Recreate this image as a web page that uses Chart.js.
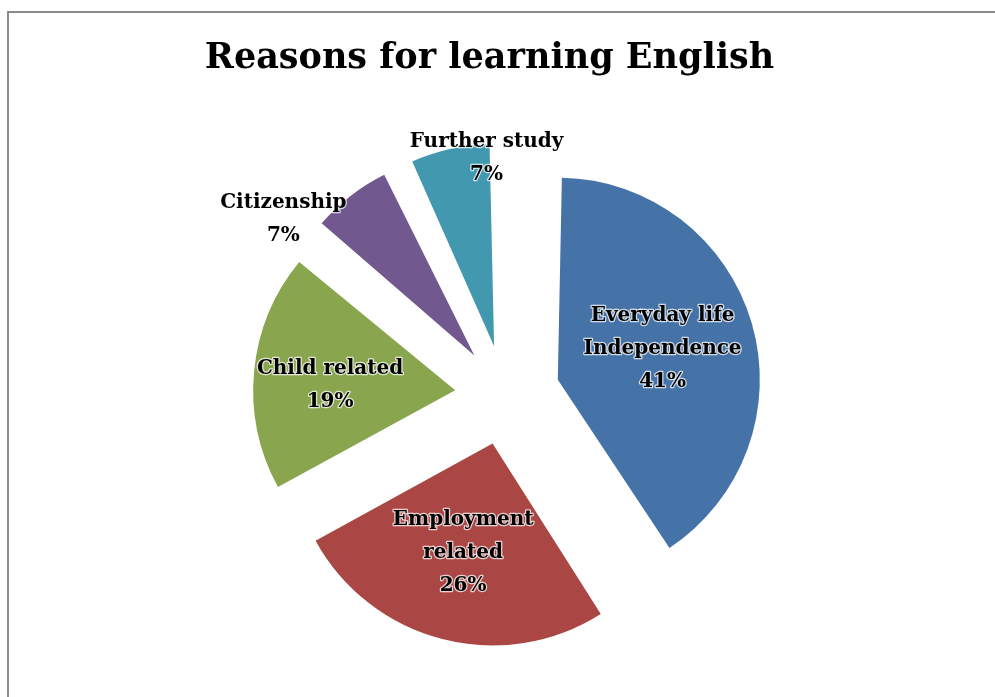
<!DOCTYPE html>
<html>
<head>
<meta charset="utf-8">
<script src="https://cdn.jsdelivr.net/npm/chart.js@4.4.1/dist/chart.umd.min.js"></script>
<style>
    html, body { margin: 0; padding: 0; background: #fff; overflow: hidden; }
    #wrap { position: relative; width: 995px; height: 697px; }
    #frame {
        position: absolute; left: 7px; top: 11px; width: 1100px; height: 800px;
        border-top: 2px solid #8a8a8a; border-left: 2px solid #8a8a8a;
    }
    #title {
        position: absolute; left: 0; top: 38px; width: 979px; text-align: center;
        font: bold 35px/36px "DejaVu Serif", serif; color: #000; margin: 0;
    }
    #chart { position: absolute; left: 0; top: 0; }
</style>
</head>
<body>
<div id="wrap">
    <div id="frame"></div>
    <canvas id="chart" width="995" height="697"></canvas>
    <h1 id="title">Reasons for learning English</h1>
</div>
<script>
// data
const categories = [['Everyday life', 'Independence'], ['Employment', 'related'], 'Child related', 'Citizenship', 'Further study']
const shares = [41, 26, 19, 7, 7]
const sliceColors = ['#4572A7', '#AA4643', '#89A54E', '#71588F', '#4198AF']

// where each label sits: fraction of the radius out from the slice tip, and a small turn (deg)
const labelPlace = [
    { f: 0.54, turn: 0 },
    { f: 0.56, turn: 0.7 },
    { f: 0.62, turn: -3 },
    { f: 1.16, turn: -16.8 },
    { f: 0.93, turn: 10.3 }
]

// Chart.js grows the radius of exploded slices a bit (more for thin ones), undo that
const evenRadius = {
    id: 'evenRadius',
    afterDatasetsUpdate(chart) {
        const meta = chart.getDatasetMeta(0)
        meta.data.forEach(arc => {
            const off = (arc.options.offset || 0) / 4
            const fix = 1 - Math.sin(Math.min(Math.PI, arc.circumference))
            arc.outerRadius = meta.controller.outerRadius - off * fix
        })
    }
}

const sliceLabels = {
    id: 'sliceLabels',
    afterDatasetsDraw(chart) {
        const ctx = chart.ctx
        const meta = chart.getDatasetMeta(0)
        const R = meta.controller.outerRadius
        ctx.save()
        ctx.font = 'bold 20px "DejaVu Serif", serif'
        ctx.textAlign = 'center'
        ctx.textBaseline = 'middle'
        ctx.lineJoin = 'round'
        meta.data.forEach((arc, i) => {
            const mid = (arc.startAngle + arc.endAngle) / 2
            const off = (arc.options.offset || 0) / 4
            const tipX = arc.x + Math.cos(mid) * off
            const tipY = arc.y + Math.sin(mid) * off
            const p = labelPlace[i]
            const a = mid + p.turn * Math.PI / 180
            const cx = tipX + Math.cos(a) * p.f * R
            const cy = tipY + Math.sin(a) * p.f * R
            const lines = [].concat(chart.data.labels[i], shares[i] + '%')
            lines.forEach((line, k) => {
                const ly = cy + (k - (lines.length - 1) / 2) * 33
                ctx.strokeStyle = 'rgba(255,255,255,0.75)'
                ctx.lineWidth = 2.5
                ctx.strokeText(line, cx, ly)
                ctx.fillStyle = '#000'
                ctx.fillText(line, cx, ly)
            })
        })
        ctx.restore()
    }
}

new Chart(document.getElementById('chart'), {
    type: 'pie',
    data: {
        labels: categories,
        datasets: [{
            data: shares,
            backgroundColor: sliceColors,
            borderWidth: 0,
            offset: [220, 200, 200, 200, 200],
            hoverOffset: 0
        }]
    },
    options: {
        responsive: false,
        animation: false,
        radius: 202,
        layout: { padding: { left: 15, right: 0, top: 93, bottom: 0 } },
        plugins: {
            legend: { display: false },
            tooltip: { enabled: false },
            title: { display: false }
        }
    },
    plugins: [evenRadius, sliceLabels]
})
</script>
</body>
</html>
